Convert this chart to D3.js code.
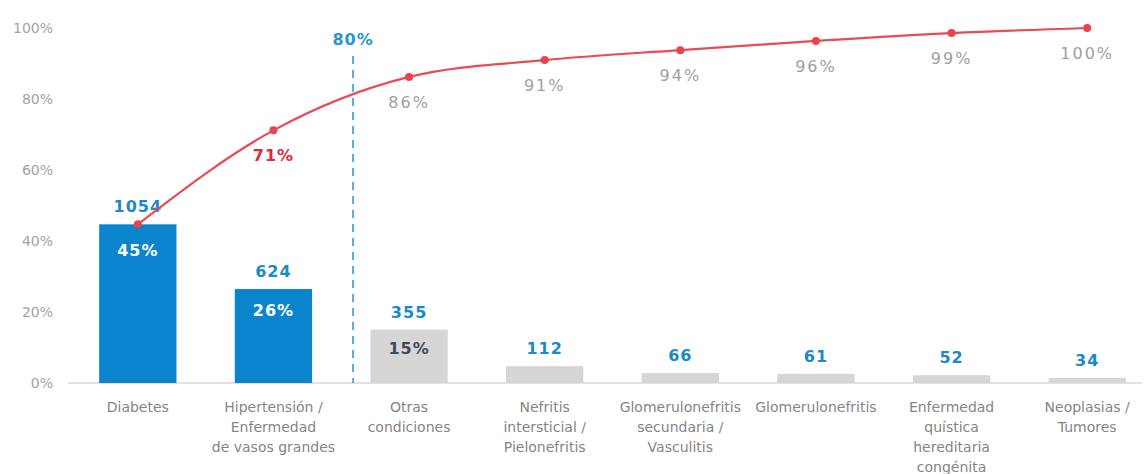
<!DOCTYPE html>
<html>
<head>
<meta charset="utf-8">
<script src="https://cdn.jsdelivr.net/npm/d3@7"></script>
<style>
  html, body { margin: 0; padding: 0; background: #fff; }
  svg { display: block; font-family: "DejaVu Sans", Verdana, sans-serif; }
</style>
</head>
<body>
<svg id="chart" width="1148" height="474"></svg>
<script>
// Causes of chronic kidney disease: patient counts and cumulative share (Pareto)
const categories = [
  ["Diabetes"],
  ["Hipertensión /", "Enfermedad", "de vasos grandes"],
  ["Otras", "condiciones"],
  ["Nefritis", "intersticial /", "Pielonefritis"],
  ["Glomerulonefritis", "secundaria /", "Vasculitis"],
  ["Glomerulonefritis"],
  ["Enfermedad", "quística", "hereditaria", "congénita"],
  ["Neoplasias /", "Tumores"]
];
const counts = [1054, 624, 355, 112, 66, 61, 52, 34];
const highlighted = [true, true, false, false, false, false, false, false];
const showShareInside = [true, true, true, false, false, false, false, false];
const yTicks = [0, 0.2, 0.4, 0.6, 0.8, 1.0];
const threshold = 0.8;

const total = d3.sum(counts);
const share = counts.map(c => c / total);
const cumulative = d3.cumsum(share);
const keys = categories.map((_, i) => i);

const svg = d3.select("#chart");
const x = d3.scaleBand().domain(keys).range([70, 1155]).paddingInner(0.43).paddingOuter(0.215);
const y = d3.scaleLinear().domain([0, 1]).range([383, 28]);
const cx = i => x(i) + x.bandwidth() / 2;
const pct = v => Math.round(v * 100) + "%";

// y axis labels
const yAxis = d3.axisLeft(y).tickValues(yTicks).tickFormat(d3.format(".0%")).tickSize(0).tickPadding(0);
const gy = svg.append("g").attr("transform", "translate(53,0)").call(yAxis);
gy.select(".domain").remove();
gy.selectAll("text").attr("font-size", 14).attr("fill", "#a3a3a3")
  .attr("font-family", "DejaVu Sans, sans-serif");

// baseline
svg.append("line").attr("x1", 68).attr("x2", 1142).attr("y1", y(0)).attr("y2", y(0))
  .attr("stroke", "#d9d9d9").attr("stroke-width", 1.5);

// bars
svg.append("g").selectAll("rect").data(keys).join("rect")
  .attr("x", i => x(i)).attr("width", x.bandwidth())
  .attr("y", i => y(share[i])).attr("height", i => y(0) - y(share[i]))
  .attr("fill", i => highlighted[i] ? "#0a84cc" : "#d6d6d6");

// counts above the bars
svg.append("g").selectAll("text").data(keys).join("text")
  .attr("x", cx).attr("y", i => y(share[i]) - 12)
  .attr("text-anchor", "middle").attr("font-size", 16).attr("font-weight", "bold")
  .attr("letter-spacing", 1).attr("fill", "#1a8ac8")
  .text(i => counts[i]);

// share inside the larger bars
svg.append("g").selectAll("text").data(keys.filter(i => showShareInside[i])).join("text")
  .attr("x", cx).attr("y", i => y(share[i]) + 20 + (y(0) - y(share[i])) * 0.075)
  .attr("text-anchor", "middle").attr("font-size", 16).attr("font-weight", "bold")
  .attr("letter-spacing", 1).attr("fill", i => highlighted[i] ? "#ffffff" : "#3d4a57")
  .text(i => pct(share[i]));

// 80% threshold line, placed where the cumulative curve reaches it
const k = cumulative.findIndex(v => v >= threshold);
const t = (threshold - cumulative[k - 1]) / (cumulative[k] - cumulative[k - 1]);
const xThr = cx(k - 1) + t * (cx(k) - cx(k - 1));
svg.append("line").attr("x1", xThr).attr("x2", xThr).attr("y1", 56).attr("y2", y(0))
  .attr("stroke", "#5fa9d6").attr("stroke-width", 2).attr("stroke-dasharray", "8,6");
svg.append("text").attr("x", xThr).attr("y", 45).attr("text-anchor", "middle")
  .attr("font-size", 16).attr("font-weight", "bold").attr("letter-spacing", 1)
  .attr("fill", "#2a95d5").text(pct(threshold));

// cumulative curve
const line = d3.line().x((d, i) => cx(i)).y(d => y(d)).curve(d3.curveMonotoneX);
svg.append("path").datum(cumulative).attr("d", line)
  .attr("fill", "none").attr("stroke", "#e94a55").attr("stroke-width", 2.2);
svg.append("g").selectAll("circle").data(cumulative).join("circle")
  .attr("cx", (d, i) => cx(i)).attr("cy", d => y(d)).attr("r", 4)
  .attr("fill", "#e8434f");

// cumulative labels (first point is labelled by its bar)
svg.append("g").selectAll("text").data(keys.slice(1)).join("text")
  .attr("x", cx).attr("y", i => y(cumulative[i]) + 31)
  .attr("text-anchor", "middle").attr("font-size", 16)
  .attr("font-weight", i => i === 1 ? "bold" : "normal")
  .attr("letter-spacing", i => i === 1 ? 1 : 2)
  .attr("fill", i => i === 1 ? "#e0283a" : "#a0a0a0")
  .text(i => pct(cumulative[i]));

// category labels
const gx = svg.append("g");
keys.forEach(i => {
  const txt = gx.append("text").attr("x", cx(i)).attr("y", 412)
    .attr("text-anchor", "middle").attr("font-size", 14).attr("fill", "#858585");
  categories[i].forEach((s, j) => {
    txt.append("tspan").attr("x", cx(i)).attr("dy", j === 0 ? 0 : 20).text(s);
  });
});
</script>
</body>
</html>
